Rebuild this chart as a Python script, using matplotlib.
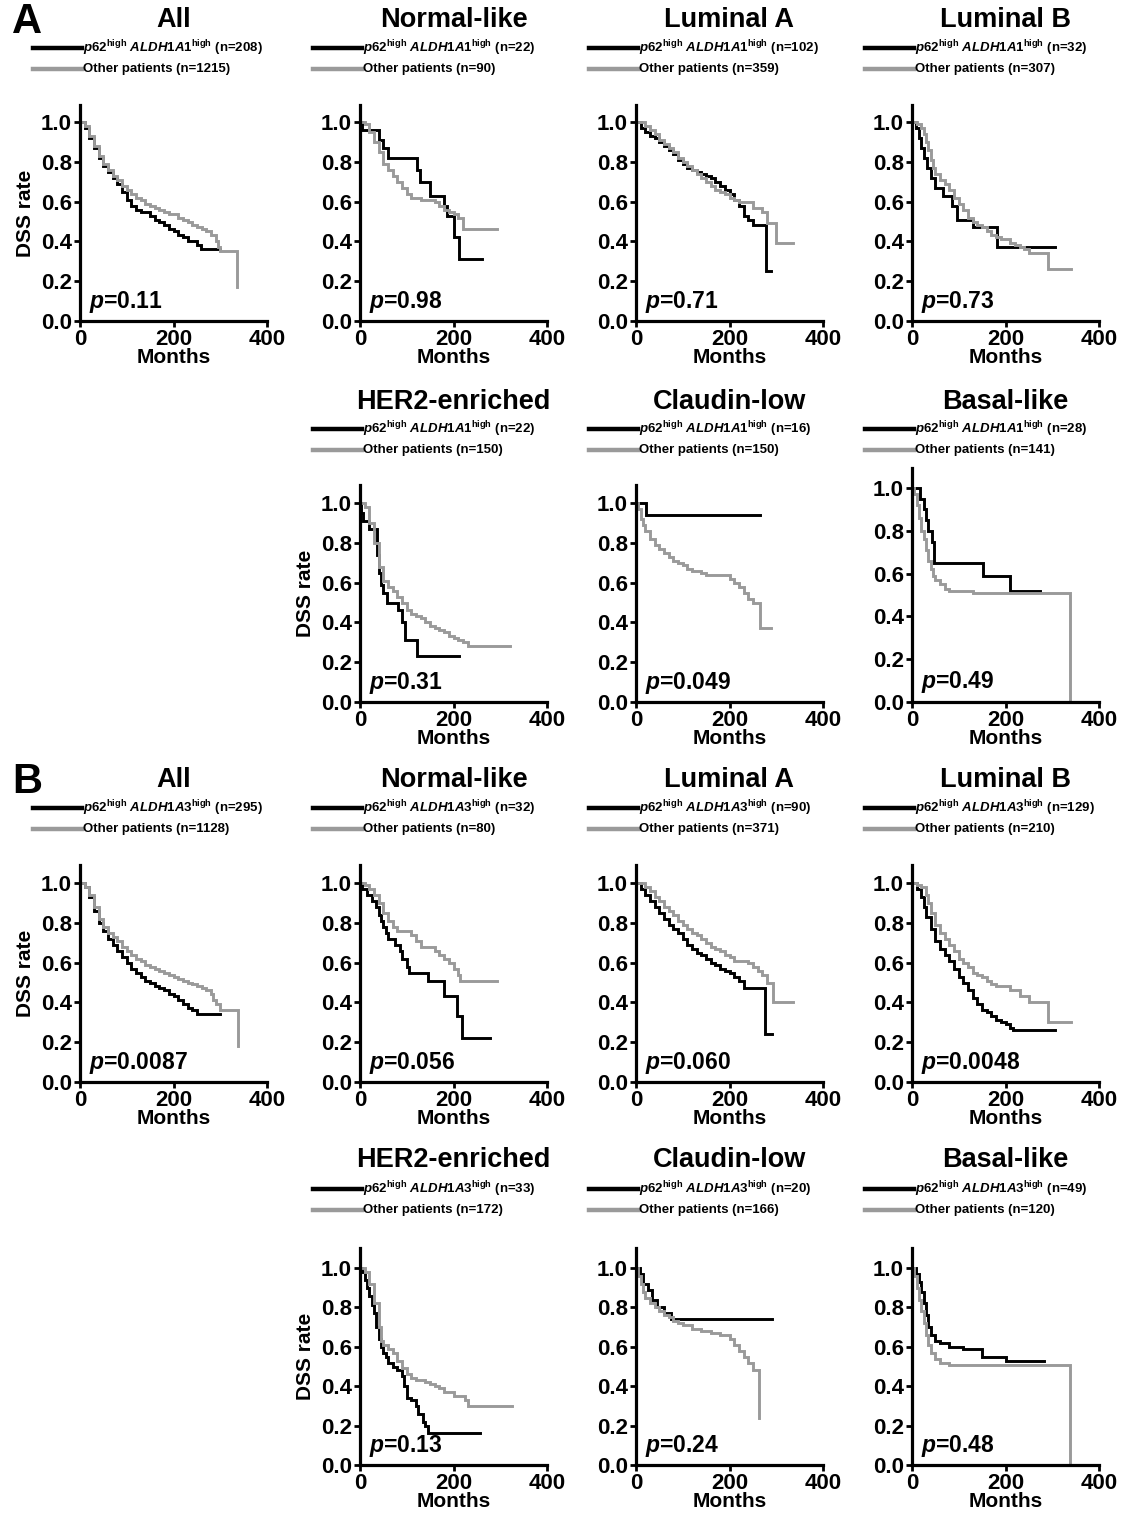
import matplotlib
matplotlib.use("Agg")
import matplotlib.pyplot as plt
from matplotlib.lines import Line2D

plt.rcParams["font.family"] = ["Liberation Sans", "DejaVu Sans"]
plt.rcParams["font.weight"] = "bold"
plt.rcParams["mathtext.fontset"] = "custom"
plt.rcParams["mathtext.rm"] = "Liberation Sans:bold"
plt.rcParams["mathtext.bf"] = "Liberation Sans:bold"
plt.rcParams["mathtext.it"] = "Liberation Sans:italic:bold"

BLACK = "black"
GRAY = "#9a9a9a"

# ---- curves (months, DSS rate) ----
# Panel A : ALDH1A1
A_ALL_HI = [(0, 1.0), (10, 0.97), (20, 0.92), (30, 0.87), (40, 0.82), (50, 0.78), (60, 0.75), (70, 0.72),
            (80, 0.69), (90, 0.65), (100, 0.61), (110, 0.58), (120, 0.56), (130, 0.55), (150, 0.53),
            (160, 0.51), (170, 0.50), (180, 0.48), (190, 0.46), (200, 0.45), (210, 0.43), (220, 0.42),
            (230, 0.40), (250, 0.38), (258, 0.36), (300, 0.36)]
A_ALL_LO = [(0, 1.0), (10, 0.98), (20, 0.93), (30, 0.88), (40, 0.83), (50, 0.79), (60, 0.76), (70, 0.73),
            (80, 0.71), (90, 0.68), (100, 0.66), (110, 0.64), (120, 0.62), (130, 0.61), (140, 0.59),
            (150, 0.58), (160, 0.57), (170, 0.56), (180, 0.55), (190, 0.54), (210, 0.52), (220, 0.51),
            (230, 0.50), (240, 0.48), (250, 0.47), (260, 0.46), (270, 0.45), (280, 0.43), (290, 0.40),
            (295, 0.37), (300, 0.35), (336, 0.17)]
A_NORM_HI = [(0, 1.0), (5, 0.96), (40, 0.91), (50, 0.87), (60, 0.82), (121, 0.76), (128, 0.70), (150, 0.63),
             (180, 0.58), (186, 0.53), (200, 0.42), (211, 0.31), (261, 0.31)]
A_NORM_LO = [(0, 1.0), (10, 0.99), (20, 0.95), (30, 0.90), (40, 0.85), (50, 0.79), (60, 0.76), (70, 0.73),
             (80, 0.70), (90, 0.67), (100, 0.64), (110, 0.62), (130, 0.61), (160, 0.60), (170, 0.58),
             (180, 0.56), (190, 0.55), (200, 0.54), (210, 0.52), (220, 0.46), (293, 0.46)]
A_LUMA_HI = [(0, 1.0), (10, 0.97), (20, 0.95), (30, 0.93), (40, 0.92), (50, 0.90), (60, 0.88), (70, 0.86),
             (80, 0.84), (90, 0.81), (100, 0.79), (110, 0.77), (120, 0.76), (130, 0.75), (140, 0.74),
             (150, 0.73), (160, 0.72), (170, 0.70), (180, 0.68), (190, 0.66), (200, 0.64), (210, 0.61),
             (220, 0.58), (230, 0.53), (240, 0.51), (250, 0.48), (279, 0.25), (288, 0.25)]
A_LUMA_LO = [(0, 1.0), (10, 1.0), (20, 0.98), (30, 0.96), (40, 0.94), (50, 0.91), (60, 0.89), (70, 0.87),
             (80, 0.85), (90, 0.82), (100, 0.80), (110, 0.78), (120, 0.76), (130, 0.74), (140, 0.72),
             (150, 0.70), (160, 0.68), (170, 0.66), (180, 0.65), (190, 0.64), (200, 0.62), (210, 0.61),
             (220, 0.60), (250, 0.57), (270, 0.55), (280, 0.49), (300, 0.39), (336, 0.39)]
A_LUMB_HI = [(0, 1.0), (8, 0.97), (14, 0.92), (20, 0.87), (26, 0.82), (32, 0.77), (40, 0.72), (50, 0.67),
             (67, 0.63), (85, 0.58), (96, 0.51), (131, 0.47), (181, 0.37), (305, 0.37)]
A_LUMB_LO = [(0, 1.0), (10, 0.99), (20, 0.97), (25, 0.94), (30, 0.90), (35, 0.86), (40, 0.81), (45, 0.77),
             (50, 0.74), (60, 0.71), (70, 0.69), (80, 0.66), (90, 0.62), (100, 0.59), (110, 0.56),
             (120, 0.52), (130, 0.50), (140, 0.48), (150, 0.47), (160, 0.45), (170, 0.43), (180, 0.42),
             (190, 0.41), (210, 0.39), (220, 0.38), (230, 0.37), (240, 0.36), (250, 0.34), (291, 0.26),
             (340, 0.26)]
A_HER2_HI = [(0, 1.0), (2, 0.95), (6, 0.91), (20, 0.87), (36, 0.74), (40, 0.65), (45, 0.59), (50, 0.55),
             (57, 0.50), (82, 0.46), (90, 0.40), (96, 0.31), (121, 0.23), (211, 0.23)]
A_HER2_LO = [(0, 1.0), (10, 0.98), (20, 0.90), (30, 0.80), (40, 0.68), (50, 0.61), (60, 0.58), (70, 0.56),
             (80, 0.53), (90, 0.50), (100, 0.46), (110, 0.44), (120, 0.43), (130, 0.42), (140, 0.40),
             (150, 0.38), (160, 0.37), (170, 0.36), (180, 0.35), (190, 0.33), (200, 0.32), (210, 0.31),
             (220, 0.30), (230, 0.28), (321, 0.28)]
A_CLAU_HI = [(0, 1.0), (21, 0.94), (265, 0.94)]
A_CLAU_LO = [(0, 1.0), (5, 0.97), (10, 0.92), (15, 0.89), (20, 0.86), (30, 0.82), (40, 0.79), (50, 0.77),
             (60, 0.75), (70, 0.73), (80, 0.71), (90, 0.70), (100, 0.69), (110, 0.67), (120, 0.66),
             (140, 0.65), (150, 0.64), (200, 0.62), (210, 0.60), (220, 0.58), (230, 0.55), (240, 0.52),
             (250, 0.50), (266, 0.37), (289, 0.37)]
A_BASAL_HI = [(0, 1.0), (18, 0.95), (25, 0.90), (30, 0.85), (35, 0.80), (42, 0.75), (48, 0.65), (152, 0.59),
              (209, 0.52), (273, 0.52)]
A_BASAL_LO = [(0, 1.0), (5, 0.97), (10, 0.92), (15, 0.86), (20, 0.80), (25, 0.76), (30, 0.71), (35, 0.66),
              (40, 0.62), (45, 0.59), (50, 0.57), (60, 0.55), (70, 0.53), (80, 0.52), (130, 0.51),
              (337, 0.0)]

# Panel B : ALDH1A3
B_ALL_HI = [(0, 1.0), (10, 0.98), (20, 0.93), (30, 0.86), (40, 0.80), (50, 0.76), (60, 0.72), (70, 0.69),
            (80, 0.66), (90, 0.63), (100, 0.60), (110, 0.57), (120, 0.55), (130, 0.53), (140, 0.51),
            (150, 0.50), (160, 0.48), (170, 0.47), (180, 0.46), (190, 0.44), (200, 0.43), (210, 0.41),
            (220, 0.39), (230, 0.37), (240, 0.36), (250, 0.34), (300, 0.34)]
B_ALL_LO = [(0, 1.0), (10, 0.98), (20, 0.94), (30, 0.88), (40, 0.82), (50, 0.78), (60, 0.75), (70, 0.73),
            (80, 0.71), (90, 0.68), (100, 0.66), (110, 0.64), (120, 0.62), (130, 0.61), (140, 0.59),
            (150, 0.58), (160, 0.57), (170, 0.56), (180, 0.55), (190, 0.54), (200, 0.53), (210, 0.52),
            (220, 0.51), (230, 0.50), (240, 0.49), (250, 0.48), (260, 0.47), (270, 0.46), (280, 0.44),
            (285, 0.41), (290, 0.39), (300, 0.36), (337, 0.18)]
B_NORM_HI = [(0, 1.0), (5, 0.97), (15, 0.94), (25, 0.91), (35, 0.88), (40, 0.84), (45, 0.81), (50, 0.78),
             (55, 0.75), (60, 0.72), (75, 0.69), (85, 0.66), (90, 0.62), (100, 0.58), (104, 0.55),
             (146, 0.51), (179, 0.43), (207, 0.33), (218, 0.22), (279, 0.22)]
B_NORM_LO = [(0, 1.0), (10, 0.99), (20, 0.97), (30, 0.94), (40, 0.90), (50, 0.85), (60, 0.81), (70, 0.78),
             (80, 0.76), (110, 0.74), (120, 0.71), (130, 0.68), (160, 0.66), (170, 0.64), (180, 0.62),
             (190, 0.60), (200, 0.57), (210, 0.54), (214, 0.51), (293, 0.51)]
B_LUMA_HI = [(0, 1.0), (10, 0.97), (20, 0.94), (30, 0.91), (40, 0.88), (50, 0.85), (60, 0.82), (70, 0.79),
             (80, 0.77), (90, 0.75), (100, 0.72), (110, 0.69), (120, 0.67), (130, 0.65), (140, 0.64),
             (150, 0.62), (160, 0.60), (170, 0.59), (180, 0.57), (190, 0.56), (200, 0.55), (210, 0.53),
             (220, 0.51), (230, 0.47), (275, 0.24), (290, 0.24)]
B_LUMA_LO = [(0, 1.0), (10, 1.0), (20, 0.98), (30, 0.96), (40, 0.93), (50, 0.91), (60, 0.88), (70, 0.86),
             (80, 0.84), (90, 0.81), (100, 0.79), (110, 0.77), (120, 0.75), (130, 0.74), (140, 0.72),
             (150, 0.70), (160, 0.68), (170, 0.67), (180, 0.66), (190, 0.64), (200, 0.63), (210, 0.61),
             (240, 0.60), (250, 0.58), (260, 0.56), (270, 0.54), (280, 0.50), (293, 0.40), (335, 0.40)]
B_LUMB_HI = [(0, 1.0), (10, 0.97), (20, 0.93), (25, 0.88), (30, 0.83), (40, 0.77), (50, 0.71), (60, 0.67),
             (70, 0.64), (80, 0.61), (90, 0.57), (100, 0.53), (110, 0.50), (120, 0.46), (130, 0.42),
             (140, 0.39), (150, 0.36), (160, 0.35), (170, 0.33), (180, 0.31), (190, 0.30), (200, 0.29),
             (210, 0.27), (215, 0.26), (305, 0.26)]
B_LUMB_LO = [(0, 1.0), (10, 0.99), (20, 0.98), (30, 0.94), (35, 0.90), (40, 0.85), (50, 0.79), (60, 0.75),
             (70, 0.72), (80, 0.69), (90, 0.66), (100, 0.62), (110, 0.60), (120, 0.58), (130, 0.55),
             (140, 0.54), (150, 0.53), (160, 0.51), (170, 0.49), (180, 0.48), (210, 0.46), (230, 0.43),
             (250, 0.40), (291, 0.30), (340, 0.30)]
B_HER2_HI = [(0, 1.0), (5, 0.98), (10, 0.94), (15, 0.90), (20, 0.86), (25, 0.81), (30, 0.77), (35, 0.70),
             (40, 0.64), (45, 0.60), (50, 0.57), (55, 0.55), (60, 0.52), (70, 0.50), (80, 0.48), (90, 0.45),
             (95, 0.40), (100, 0.34), (110, 0.33), (120, 0.30), (125, 0.26), (135, 0.22), (140, 0.20),
             (145, 0.16), (257, 0.16)]
B_HER2_LO = [(0, 1.0), (10, 0.98), (20, 0.92), (30, 0.82), (40, 0.70), (45, 0.63), (50, 0.61), (60, 0.59),
             (70, 0.57), (80, 0.53), (90, 0.49), (100, 0.46), (110, 0.44), (120, 0.43), (140, 0.42),
             (150, 0.41), (160, 0.40), (170, 0.39), (180, 0.37), (200, 0.35), (225, 0.33), (230, 0.30),
             (325, 0.30)]
B_CLAU_HI = [(0, 1.0), (8, 0.97), (15, 0.92), (25, 0.89), (35, 0.84), (45, 0.80), (60, 0.77), (75, 0.74),
             (290, 0.74)]
B_CLAU_LO = [(0, 1.0), (5, 0.96), (10, 0.92), (15, 0.88), (20, 0.85), (30, 0.82), (40, 0.80), (50, 0.78),
             (60, 0.76), (70, 0.75), (80, 0.73), (90, 0.72), (100, 0.71), (120, 0.69), (140, 0.68),
             (160, 0.67), (180, 0.66), (200, 0.64), (210, 0.61), (220, 0.58), (230, 0.55), (240, 0.52),
             (250, 0.48), (264, 0.24)]
B_BASAL_HI = [(0, 1.0), (8, 0.97), (15, 0.93), (20, 0.88), (25, 0.82), (30, 0.76), (35, 0.70), (40, 0.66),
              (50, 0.63), (60, 0.62), (80, 0.60), (110, 0.59), (150, 0.55), (200, 0.53), (283, 0.53)]
B_BASAL_LO = [(0, 1.0), (5, 0.96), (10, 0.90), (15, 0.84), (20, 0.78), (25, 0.72), (30, 0.66), (35, 0.61),
              (40, 0.57), (50, 0.54), (60, 0.52), (80, 0.51), (337, 0.0)]

SUBTYPES = ["All", "Normal-like", "Luminal A", "Luminal B", "HER2-enriched", "Claudin-low", "Basal-like"]
A_CURVES = [(A_ALL_HI, A_ALL_LO), (A_NORM_HI, A_NORM_LO), (A_LUMA_HI, A_LUMA_LO), (A_LUMB_HI, A_LUMB_LO),
            (A_HER2_HI, A_HER2_LO), (A_CLAU_HI, A_CLAU_LO), (A_BASAL_HI, A_BASAL_LO)]
B_CURVES = [(B_ALL_HI, B_ALL_LO), (B_NORM_HI, B_NORM_LO), (B_LUMA_HI, B_LUMA_LO), (B_LUMB_HI, B_LUMB_LO),
            (B_HER2_HI, B_HER2_LO), (B_CLAU_HI, B_CLAU_LO), (B_BASAL_HI, B_BASAL_LO)]
A_N_HI = [208, 22, 102, 32, 22, 16, 28]
A_N_LO = [1215, 90, 359, 307, 150, 150, 141]
B_N_HI = [295, 32, 90, 129, 33, 20, 49]
B_N_LO = [1128, 80, 371, 210, 172, 166, 120]
A_PVAL = ["0.11", "0.98", "0.71", "0.73", "0.31", "0.049", "0.49"]
B_PVAL = ["0.0087", "0.056", "0.060", "0.0048", "0.13", "0.24", "0.48"]

# ---- layout in pixels ----
W, H = 1122, 1515
COL_LEFT = [80, 360, 636, 912]
AX_W = 187


def px_axes(fig, left, zero, unit, top):
    return fig.add_axes([left / W, (H - zero) / H, AX_W / W, (zero - top) / H])


def draw_km(ax, hi, lo, pval, ylab):
    for pts, col in ((hi, BLACK), (lo, GRAY)):
        t = [p[0] for p in pts]
        s = [p[1] for p in pts]
        ax.step(t, s, where="post", color=col, lw=2.1, solid_joinstyle="miter")
    ax.set_xlim(0, 400)
    ax.set_xticks([0, 200, 400])
    ax.set_yticks([0.0, 0.2, 0.4, 0.6, 0.8, 1.0])
    ax.set_yticklabels(["0.0", "0.2", "0.4", "0.6", "0.8", "1.0"])
    for sp in ("top", "right"):
        ax.spines[sp].set_visible(False)
    for sp in ("left", "bottom"):
        ax.spines[sp].set_linewidth(2.3)
    ax.tick_params(direction="out", length=4, width=2, labelsize=16, pad=2)
    ax.set_xlabel("Months", fontsize=15, fontweight="bold", labelpad=-2)
    if ylab:
        ax.set_ylabel("DSS rate", fontsize=15, fontweight="bold", labelpad=4)
    ax.text(20, 0.095, "$p$=" + pval, fontsize=16.5, fontweight="bold", va="center", ha="left")


def header(fig, left, ty, ly, title, gene, nhi, nlo):
    cx = (left + AX_W / 2) / W
    fig.text(cx, 1 - ty / H, title, ha="center", va="center", fontsize=19.5, fontweight="bold")
    for k, (col, lab) in enumerate((
            (BLACK, r"$\mathit{p62}^{\mathrm{high}}$ $\mathit{" + gene + r"}^{\mathrm{high}}$ (n=%d)" % nhi),
            (GRAY, "Other patients (n=%d)" % nlo))):
        y = 1 - (ly + 21 * k) / H
        fig.add_artist(Line2D([(left - 47) / W, (left + 2) / W], [y, y], color=col, lw=3.2,
                              transform=fig.transFigure))
        fig.text((left + 3) / W, y, lab, ha="left", va="center", fontsize=9.5, fontweight="bold")


fig = plt.figure(figsize=(W / 100, H / 100), dpi=100)

# (index, column, zero-pixel, unit-pixels, top-pixel, title-y, legend-y)
A_SLOTS = [(0, 0, 321, 199, 105, 20, 48), (1, 1, 321, 199, 105, 20, 48), (2, 2, 321, 199, 105, 20, 48),
           (3, 3, 321, 199, 105, 20, 48), (4, 1, 702, 199, 485, 402, 429), (5, 2, 702, 199, 485, 402, 429),
           (6, 3, 702, 214, 468, 402, 429)]
B_SLOTS = [(0, 0, 1082, 199, 865, 780, 808), (1, 1, 1082, 199, 865, 780, 808), (2, 2, 1082, 199, 865, 780, 808),
           (3, 3, 1082, 199, 865, 780, 808), (4, 1, 1465, 197, 1248, 1160, 1189),
           (5, 2, 1465, 197, 1248, 1160, 1189), (6, 3, 1465, 197, 1248, 1160, 1189)]

for slots, curves, nhi, nlo, pv, gene in ((A_SLOTS, A_CURVES, A_N_HI, A_N_LO, A_PVAL, "ALDH1A1"),
                                          (B_SLOTS, B_CURVES, B_N_HI, B_N_LO, B_PVAL, "ALDH1A3")):
    for i, c, zero, unit, top, ty, ly in slots:
        left = COL_LEFT[c]
        ax = px_axes(fig, left, zero, unit, top)
        ax.set_ylim(0, (zero - top) / unit)
        draw_km(ax, curves[i][0], curves[i][1], pv[i], ylab=(c == 0 or i == 4))
        header(fig, left, ty, ly, SUBTYPES[i], gene, nhi[i], nlo[i])

fig.text(12 / W, 1 - 22 / H, "A", fontsize=30, fontweight="bold", va="center", ha="left")
fig.text(12 / W, 1 - 782 / H, "B", fontsize=30, fontweight="bold", va="center", ha="left")

fig.savefig("out.png", dpi=100)
